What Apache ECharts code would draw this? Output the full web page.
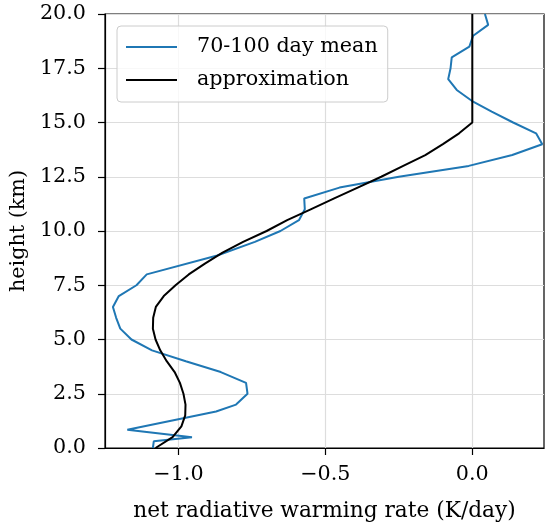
<!DOCTYPE html>
<html><head><meta charset="utf-8">
<script src="https://cdn.jsdelivr.net/npm/echarts@6/dist/echarts.min.js"></script>
<style>html,body{margin:0;padding:0;background:#fff}#c{width:545px;height:527px}</style>
</head><body><div id="c"></div>
<script>
const meanHeight = [0, 0.31, 0.5, 0.84, 1.68, 2.0, 2.5, 3.0, 3.5, 4.0, 4.5, 5.0, 5.5, 6.0, 6.5, 7.0, 7.5, 8.0, 8.87, 9.5, 10.0, 10.5, 11.0, 11.5, 12.0, 12.5, 13.0, 13.5, 14.0, 14.5, 15.0, 15.5, 16.0, 16.5, 17.0, 17.5, 18.0, 18.5, 19.0, 19.5, 20.0];
const meanRate = [-1.087, -1.084, -0.954, -1.174, -0.872, -0.804, -0.765, -0.770, -0.856, -0.975, -1.09, -1.16, -1.198, -1.212, -1.223, -1.203, -1.143, -1.108, -0.868, -0.74, -0.653, -0.59, -0.57, -0.572, -0.452, -0.25, -0.012, 0.136, 0.238, 0.217, 0.139, 0.066, -0.002, -0.053, -0.082, -0.074, -0.070, -0.010, 0.003, 0.054, 0.043];
const approxHeight = [0, 0.5, 1.0, 1.5, 2.0, 2.5, 3.0, 3.5, 4.0, 4.5, 5.0, 5.5, 6.0, 6.5, 7.0, 7.5, 8.0, 8.5, 9.0, 9.5, 10.0, 10.5, 11.0, 11.5, 12.0, 12.5, 13.0, 13.5, 14.0, 14.5, 15.0, 16.0, 17.0, 18.0, 19.0, 20.0];
const approxRate = [-1.078, -1.02, -0.99, -0.977, -0.976, -0.983, -0.995, -1.013, -1.040, -1.062, -1.078, -1.087, -1.086, -1.077, -1.050, -1.01, -0.965, -0.91, -0.85, -0.78, -0.70, -0.63, -0.55, -0.47, -0.39, -0.31, -0.235, -0.16, -0.10, -0.045, 0, 0, 0, 0, 0, 0];
const xTicks = [-1.0, -0.5, 0.0];
const seriesNames = ['70-100 day mean', 'approximation'];

const FONT = 'DejaVu Serif';
const FS = 20.7;
const fmt = v => (v < 0 ? '\u2212' : '') + Math.abs(v).toFixed(1);

const chart = echarts.init(document.getElementById('c'), null, {renderer: 'canvas'});
chart.setOption({
  animation: false,
  backgroundColor: '#fff',
  grid: {left: 105, right: 1, top: 14, bottom: 77, show: true, borderColor: '#000', borderWidth: 1.2, backgroundColor: 'transparent'},
  legend: {
    left: 117, top: 26, orient: 'vertical',
    data: seriesNames,
    icon: 'rect', itemWidth: 51, itemHeight: 2, itemGap: 11,
    padding: [10, 10, 11, 9],
    backgroundColor: 'rgba(255,255,255,0.8)', borderColor: '#cccccc', borderWidth: 1, borderRadius: 4,
    textStyle: {fontFamily: FONT, fontSize: FS, color: '#000', padding: [0, 0, 0, 15], lineHeight: 22}
  },
  xAxis: {
    type: 'value', min: -1.25, max: 0.244,
    name: 'net radiative warming rate (K/day)', nameLocation: 'middle', nameGap: 52,
    nameTextStyle: {fontFamily: FONT, fontSize: 21.7, color: '#000'},
    axisLine: {show: true, onZero: false, lineStyle: {color: '#000', width: 1.2}},
    axisTick: {show: true, length: 7, inside: false, customValues: xTicks, lineStyle: {color: '#000', width: 1.2}},
    axisLabel: {customValues: xTicks, formatter: fmt, fontFamily: FONT, fontSize: FS, color: '#000', margin: 16},
    splitLine: {show: true, customValues: xTicks, lineStyle: {color: '#dddddd', width: 1.2}}
  },
  yAxis: {
    type: 'value', min: 0, max: 20, interval: 2.5,
    name: 'height (km)', nameLocation: 'middle', nameGap: 71,
    nameTextStyle: {fontFamily: FONT, fontSize: FS, color: '#000'},
    axisLine: {show: true, onZero: false, lineStyle: {color: '#000', width: 1.2}},
    axisTick: {show: true, length: 7, inside: false, lineStyle: {color: '#000', width: 1.2}},
    axisLabel: {formatter: fmt, fontFamily: FONT, fontSize: FS, color: '#000', margin: 19},
    splitLine: {show: true, lineStyle: {color: '#dddddd', width: 1.2}}
  },
  series: [
    {name: seriesNames[0], type: 'line', symbol: 'none', smooth: false,
     lineStyle: {color: '#1f77b4', width: 2}, itemStyle: {color: '#1f77b4'},
     data: meanHeight.map((h, i) => [meanRate[i], h])},
    {name: seriesNames[1], type: 'line', symbol: 'none', smooth: false,
     lineStyle: {color: '#000', width: 2}, itemStyle: {color: '#000'},
     data: approxHeight.map((h, i) => [approxRate[i], h])}
  ]
});
</script></body></html>
